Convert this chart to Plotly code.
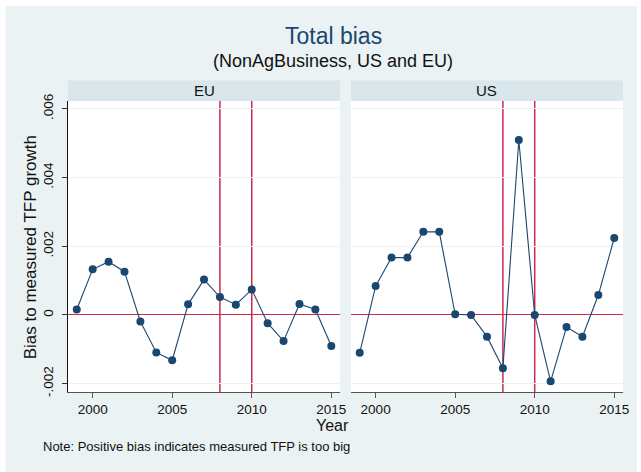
import plotly.graph_objects as go

# Data
years = list(range(1999, 2016))
eu_bias = [0.00016, 0.00133, 0.00155, 0.00126, -0.00019, -0.00109, -0.00132,
           0.00031, 0.00103, 0.00052, 0.00030, 0.00074, -0.00024, -0.00076,
           0.00032, 0.00016, -0.00090]
us_bias = [-0.00110, 0.00084, 0.00167, 0.00167, 0.00242, 0.00242, 0.00002,
           0.00000, -0.00063, -0.00155, 0.00509, 0.00000, -0.00193, -0.00035,
           -0.00063, 0.00058, 0.00224]
panels = ["EU", "US"]
crisis_years = [2008, 2010]
x_ticks = [2000, 2005, 2010, 2015]
y_ticks = [-0.002, 0, 0.002, 0.004, 0.006]
y_tick_text = ["-.002", "0", ".002", ".004", ".006"]

NAVY = "#1a476f"
RED = "#cc2a4e"
BG = "#eaf2f3"
STRIP = "#d9e6eb"
FONT = "Liberation Sans, Arial, sans-serif"

W, H = 641, 472
ML, MR, MT, MB = 68, 14, 101, 80
plot_w = W - ML - MR
plot_h = H - MT - MB
gap_px = 11
half = (plot_w - gap_px) / 2
domains = [[0, half / plot_w], [(half + gap_px) / plot_w, 1]]

fig = go.Figure()

series = [eu_bias, us_bias]
for i, (name, vals) in enumerate(zip(panels, series)):
    ax = "" if i == 0 else "2"
    fig.add_trace(go.Scatter(
        x=years, y=vals, mode="lines+markers", name=name,
        xaxis="x" + ax, yaxis="y" + ax,
        line=dict(color=NAVY, width=1.1),
        marker=dict(color=NAVY, size=8),
        showlegend=False,
        cliponaxis=False,
    ))

xr = [1998.45, 2015.55]
yr = [-0.002241, 0.006227]

for i in range(2):
    suffix = "" if i == 0 else "2"
    fig.update_layout(**{
        "xaxis" + suffix: dict(
            domain=domains[i], range=xr, tickvals=x_ticks,
            ticks="outside", ticklen=5, tickcolor="#555555",
            showline=True, linecolor="#555555", linewidth=1,
            showgrid=False, zeroline=False,
            tickfont=dict(size=13.5, color="#111111", family=FONT),
            anchor="y" + suffix,
        ),
        "yaxis" + suffix: dict(
            domain=[0, 1], range=yr, tickvals=y_ticks,
            ticktext=y_tick_text if i == 0 else None,
            showticklabels=(i == 0), tickangle=-90,
            ticks="outside" if i == 0 else "", ticklen=5, tickcolor="#333333",
            ticklabelstandoff=4,
            showline=(i == 0), linecolor="#111111", linewidth=1,
            showgrid=True, gridcolor=BG, gridwidth=1,
            zeroline=True, zerolinecolor=RED, zerolinewidth=1.2,
            tickfont=dict(size=13.5, color="#111111", family=FONT),
            anchor="x" + suffix,
        ),
    })

shapes = []
# Outer graph region background with a thin white margin at top-left
shapes.append(dict(type="rect", xref="paper", yref="paper",
                   x0=-(ML - 5) / plot_w, x1=1 + MR / plot_w,
                   y0=-MB / plot_h, y1=1 + (MT - 6) / plot_h,
                   fillcolor=BG, line=dict(width=0), layer="below"))
# White plot areas
for i in range(2):
    shapes.append(dict(type="rect", xref="paper", yref="paper",
                       x0=domains[i][0], x1=domains[i][1], y0=0, y1=1,
                       fillcolor="white", line=dict(width=0), layer="below"))
    # strip header
    shapes.append(dict(type="rect", xref="paper", yref="paper",
                       x0=domains[i][0], x1=domains[i][1],
                       y0=1, y1=1 + 20.5 / plot_h,
                       fillcolor=STRIP, line=dict(width=0)))

# Reference lines at the crisis years
for i in range(2):
    suffix = "" if i == 0 else "2"
    for yr_ in crisis_years:
        shapes.append(dict(type="line", xref="x" + suffix, yref="y" + suffix + " domain",
                           x0=yr_, x1=yr_, y0=0, y1=1,
                           line=dict(color=RED, width=1.5), layer="below"))

annotations = []
for i, name in enumerate(panels):
    annotations.append(dict(text=name, xref="paper", yref="paper",
                            x=(domains[i][0] + domains[i][1]) / 2,
                            y=1 + 10.5 / plot_h, showarrow=False,
                            font=dict(size=15, color="#111111", family=FONT),
                            xanchor="center", yanchor="middle"))

def px_x(px):
    return (px - ML) / plot_w

def px_y(py):
    return (H - MB - py) / plot_h

annotations += [
    dict(text="Total bias", x=px_x(335), y=px_y(36), xref="paper", yref="paper",
         showarrow=False, font=dict(size=23, color=NAVY, family=FONT),
         xanchor="center", yanchor="middle"),
    dict(text="(NonAgBusiness, US and EU)", x=px_x(335), y=px_y(61),
         xref="paper", yref="paper", showarrow=False,
         font=dict(size=18, color="#111111", family=FONT),
         xanchor="center", yanchor="middle"),
    dict(text="Year", x=px_x(334), y=px_y(425), xref="paper", yref="paper",
         showarrow=False, font=dict(size=16, color="#111111", family=FONT),
         xanchor="center", yanchor="middle"),
    dict(text="Note: Positive bias indicates measured TFP is too big",
         x=px_x(41), y=px_y(446), xref="paper", yref="paper", showarrow=False,
         font=dict(size=13, color="#111111", family=FONT),
         xanchor="left", yanchor="middle"),
    dict(text="Bias to measured TFP growth", x=px_x(30), y=px_y(247),
         xref="paper", yref="paper", showarrow=False, textangle=-90,
         font=dict(size=17, color="#111111", family=FONT),
         xanchor="center", yanchor="middle"),
]

fig.update_layout(
    width=W, height=H,
    margin=dict(l=ML, r=MR, t=MT, b=MB),
    paper_bgcolor="white", plot_bgcolor="rgba(0,0,0,0)",
    shapes=shapes, annotations=annotations,
    font=dict(family=FONT),
)

fig.write_html("out.html")
